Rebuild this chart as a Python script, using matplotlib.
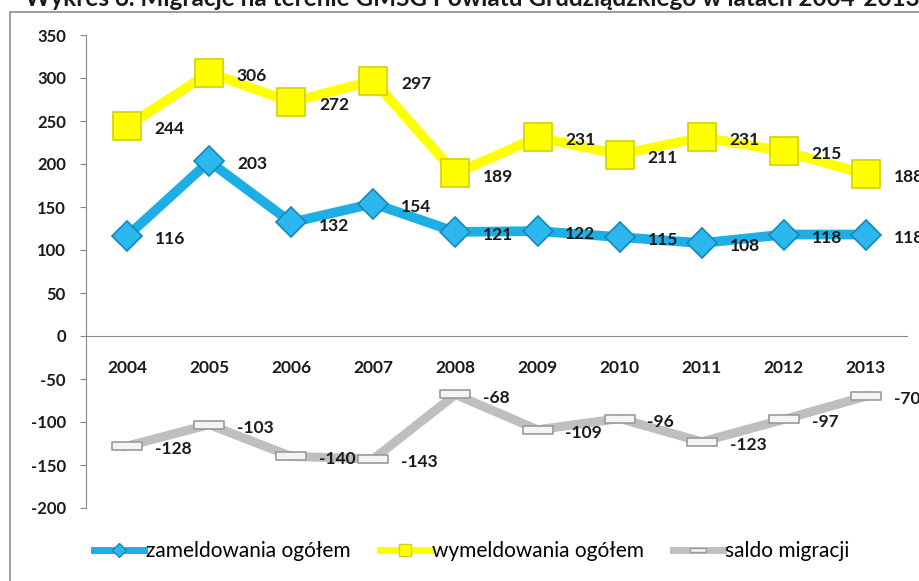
import matplotlib
matplotlib.use('Agg')
import matplotlib.pyplot as plt
from matplotlib.path import Path
from matplotlib.lines import Line2D
from matplotlib.patches import Rectangle

years = ['2004', '2005', '2006', '2007', '2008', '2009', '2010', '2011', '2012', '2013']
zameldowania = [116, 203, 132, 154, 121, 122, 115, 108, 118, 118]
wymeldowania = [244, 306, 272, 297, 189, 231, 211, 231, 215, 188]
saldo = [-128, -103, -140, -143, -68, -109, -96, -123, -97, -70]
y_ticks = [-200, -150, -100, -50, 0, 50, 100, 150, 200, 250, 300, 350]
series_names = ['zameldowania ogółem', 'wymeldowania ogółem', 'saldo migracji']
title = 'Wykres 6. Migracje na terenie GMSG Powiatu Grudziądzkiego w latach 2004-2013'

plt.rcParams['font.family'] = ['Lato', 'DejaVu Sans']

# flat rectangle marker for the balance series
bar_marker = Path([(-1, -0.27), (1, -0.27), (1, 0.27), (-1, 0.27), (-1, -0.27)],
                  [Path.MOVETO, Path.LINETO, Path.LINETO, Path.LINETO, Path.CLOSEPOLY])

fig = plt.figure(figsize=(9.19, 5.81), dpi=100)
ax = fig.add_axes([86 / 919, 73 / 581, (907 - 86) / 919, (546 - 73) / 581])

# spine position first: it resets the tick settings
ax.spines['top'].set_visible(False)
ax.spines['right'].set_visible(False)
ax.spines['left'].set_color('#868686')
ax.spines['bottom'].set_color('#868686')
ax.spines['bottom'].set_position(('data', 0))

x = list(range(len(years)))
ax.plot(x, saldo, color='#bfbfbf', lw=6.5, marker=bar_marker, ms=21,
        mfc='#f4f4f4', mec='#9a9a9a', mew=1.2, zorder=3)
ax.plot(x, wymeldowania, color='#ffff00', lw=7, marker='s', ms=20,
        mfc='#ffff00', mec='#d2d200', mew=1.2, zorder=3)
ax.plot(x, zameldowania, color='#1eaee6', lw=7, marker='D', ms=15,
        mfc='#2cb8ee', mec='#1288bd', mew=1.2, zorder=3)

for vals in (zameldowania, wymeldowania, saldo):
    for i, v in enumerate(vals):
        ax.annotate(str(v), (i, v), xytext=(20, -2.2), textcoords='offset points',
                    ha='left', va='center', fontsize=12.5, fontweight='bold',
                    color='#1a1a1a', zorder=5, annotation_clip=False)

ax.set_xlim(-0.5, 9.5)
ax.set_ylim(-200, 350)
ax.set_yticks(y_ticks)
ax.set_yticklabels([str(t) for t in y_ticks], fontsize=12, fontweight='bold', color='#1a1a1a')
ax.set_xticks(x)
ax.set_xticklabels(years, fontsize=12.5, fontweight='bold', color='#1a1a1a')
ax.tick_params(axis='y', direction='out', length=4.5, color='#868686', pad=10)
ax.tick_params(axis='x', length=0, pad=17)
ax.patch.set_alpha(0)

# outer chart frame (runs off the right and bottom edge)
fig.patches.append(Rectangle((10 / 919, -0.1), 1.0, 1.1 - 12 / 581, transform=fig.transFigure,
                             fill=False, edgecolor='#8c8c8c', lw=1.2))

fig.text(25 / 919, 1 - 6 / 581, title, ha='left', va='baseline', fontsize=17.5,
         fontweight='bold', color='#1a1a1a')

handles = [
    Line2D([], [], color='#1eaee6', lw=5, marker='D', ms=7, mfc='#2cb8ee', mec='#1288bd'),
    Line2D([], [], color='#ffff00', lw=5, marker='s', ms=9, mfc='#ffff00', mec='#d2d200'),
    Line2D([], [], color='#bfbfbf', lw=5, marker=bar_marker, ms=11, mfc='#f4f4f4', mec='#9a9a9a'),
]
fig.legend(handles, series_names, loc='center', bbox_to_anchor=(472 / 919, 1 - 551 / 581),
           ncol=3, frameon=False, fontsize=15, handlelength=2.4, handletextpad=0.1,
           columnspacing=1.4)

fig.savefig('out.png', dpi=100)
